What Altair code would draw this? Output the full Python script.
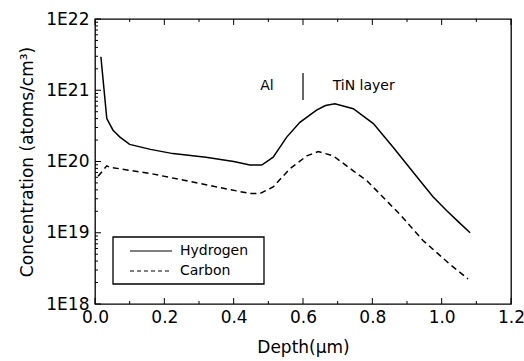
import altair as alt
import pandas as pd

# ---- data ----
h_depth = [0.017, 0.034, 0.052, 0.072, 0.10, 0.16, 0.225, 0.32, 0.40, 0.447, 0.481,
           0.514, 0.553, 0.591, 0.639, 0.665, 0.692, 0.745, 0.803, 0.86, 0.937, 0.975,
           1.014, 1.05, 1.082]
h_conc = [2.95e21, 4.0e20, 2.75e20, 2.2e20, 1.74e20, 1.48e20, 1.29e20, 1.15e20, 1.0e20,
          8.9e19, 8.9e19, 1.15e20, 2.2e20, 3.55e20, 5.25e20, 6.1e20, 6.45e20, 5.5e20,
          3.4e20, 1.58e20, 5.4e19, 3.2e19, 2.05e19, 1.4e19, 1.0e19]

c_depth = [0.009, 0.034, 0.043, 0.159, 0.303, 0.447, 0.476, 0.514, 0.562, 0.611, 0.644,
           0.687, 0.745, 0.784, 0.88, 0.946, 1.024, 1.076]
c_conc = [6.2e19, 8.7e19, 8.3e19, 6.8e19, 4.9e19, 3.55e19, 3.55e19, 4.4e19, 7.9e19,
          1.2e20, 1.38e20, 1.2e20, 7.4e19, 5.4e19, 1.8e19, 7.8e18, 3.6e18, 2.25e18]

series_names = ["Hydrogen", "Carbon"]

x_major = [0.0, 0.2, 0.4, 0.6, 0.8, 1.0, 1.2]
x_minor = [0.1, 0.3, 0.5, 0.7, 0.9, 1.1]
y_major = [1e18, 1e19, 1e20, 1e21, 1e22]
y_minor = [m * 10.0 ** e for e in [18, 19, 20, 21] for m in range(2, 10)]

ann_text = ["Al", "TiN layer"]
ann_x = [0.496, 0.775]
ann_y = [1.15e21, 1.15e21]
divider_x = [0.6]
divider_y = [1.75e21]
divider_y2 = [7.3e20]

# ---- build ----
W, H = 416, 285
FONT = "DejaVu Sans"

xs = alt.Scale(domain=[0, 1.2], nice=False, zero=False, padding=0)
ys = alt.Scale(type="log", domain=[1e18, 1e22], nice=False, padding=0)

df = pd.concat([
    pd.DataFrame({"depth": h_depth, "conc": h_conc, "series": series_names[0]}),
    pd.DataFrame({"depth": c_depth, "conc": c_conc, "series": series_names[1]}),
])

x_axis = alt.Axis(values=x_major, format=".1f", ticks=False, domain=False, grid=False,
                  labelFlush=False, labelOverlap=False,
                  labelFont=FONT, labelFontSize=17, labelColor="black", labelPadding=5,
                  title="Depth(μm)", titleFont=FONT, titleFontSize=17,
                  titleFontWeight="normal", titleColor="black", titlePadding=14)
y_axis = alt.Axis(values=y_major, labelExpr="'1E' + round(log(datum.value)/LN10)",
                  ticks=False, domain=False, grid=False,
                  labelFlush=False, labelOverlap=False,
                  labelFont=FONT, labelFontSize=17, labelColor="black", labelPadding=6,
                  title="Concentration (atoms/cm³)", titleFont=FONT, titleFontSize=17,
                  titleFontWeight="normal", titleColor="black", titlePadding=9)

h_line = alt.Chart(df[df.series == "Hydrogen"]).mark_line(color="black", strokeWidth=1.5).encode(
    x=alt.X("depth:Q", scale=xs, axis=x_axis),
    y=alt.Y("conc:Q", scale=ys, axis=y_axis),
)
c_line = alt.Chart(df[df.series == "Carbon"]).mark_line(
    color="black", strokeWidth=1.5, strokeDash=[6, 4]).encode(
    x=alt.X("depth:Q", scale=xs),
    y=alt.Y("conc:Q", scale=ys),
)

# inward ticks
xmaj = pd.DataFrame({"v": x_major})
xmin = pd.DataFrame({"v": x_minor})
ymaj = pd.DataFrame({"v": y_major})
ymin = pd.DataFrame({"v": y_minor})

def xticks(d, L):
    bot = alt.Chart(d).mark_rule(color="black", strokeWidth=1).encode(
        x=alt.X("v:Q", scale=xs), y=alt.value(H), y2=alt.value(H - L))
    top = alt.Chart(d).mark_rule(color="black", strokeWidth=1).encode(
        x=alt.X("v:Q", scale=xs), y=alt.value(0), y2=alt.value(L))
    return bot + top

def yticks(d, L):
    return alt.Chart(d).mark_rule(color="black", strokeWidth=1).encode(
        y=alt.Y("v:Q", scale=ys), x=alt.value(0), x2=alt.value(L))

ticks = xticks(xmaj, 6) + xticks(xmin, 3) + yticks(ymaj, 6) + yticks(ymin, 3)

# annotations
ann = alt.Chart(pd.DataFrame({"t": ann_text, "x": ann_x, "y": ann_y})).mark_text(
    font=FONT, fontSize=14, color="black", align="center", baseline="middle").encode(
    x=alt.X("x:Q", scale=xs), y=alt.Y("y:Q", scale=ys), text="t:N")
divider = alt.Chart(pd.DataFrame({"x": divider_x, "y": divider_y, "y2": divider_y2})).mark_rule(
    color="black", strokeWidth=1.2).encode(
    x=alt.X("x:Q", scale=xs), y=alt.Y("y:Q", scale=ys), y2="y2:Q")

# legend
one = pd.DataFrame({"a": [0]})
lx0, lx1, ly0, ly1 = 18, 169, 218, 265
leg_box = alt.Chart(one).mark_rect(fill="white", stroke="black", strokeWidth=1.3).encode(
    x=alt.value(lx0), x2=alt.value(lx1), y=alt.value(ly0), y2=alt.value(ly1))
leg_h = alt.Chart(one).mark_rule(color="black", strokeWidth=1.2).encode(
    x=alt.value(35), x2=alt.value(77), y=alt.value(232), y2=alt.value(232))
leg_c = alt.Chart(one).mark_rule(color="black", strokeWidth=1.2, strokeDash=[4, 3]).encode(
    x=alt.value(35), x2=alt.value(77), y=alt.value(252), y2=alt.value(252))
leg_t = alt.Chart(pd.DataFrame({"t": series_names, "yy": [232, 252]})).mark_text(
    font=FONT, fontSize=14, color="black", align="left", baseline="middle").encode(
    x=alt.value(85), y=alt.Y("yy:Q", scale=None), text="t:N")

chart = alt.layer(h_line, c_line, ticks, divider, ann, leg_box, leg_h, leg_c, leg_t).properties(
    width=W, height=H,
    autosize=alt.AutoSizeParams(type="none"),
    padding={"left": 95, "top": 19, "right": 13, "bottom": 57},
    background="white",
).configure_view(stroke="black", strokeWidth=1.3)

chart.save("out.html", embed_options={"renderer": "svg", "actions": False})
